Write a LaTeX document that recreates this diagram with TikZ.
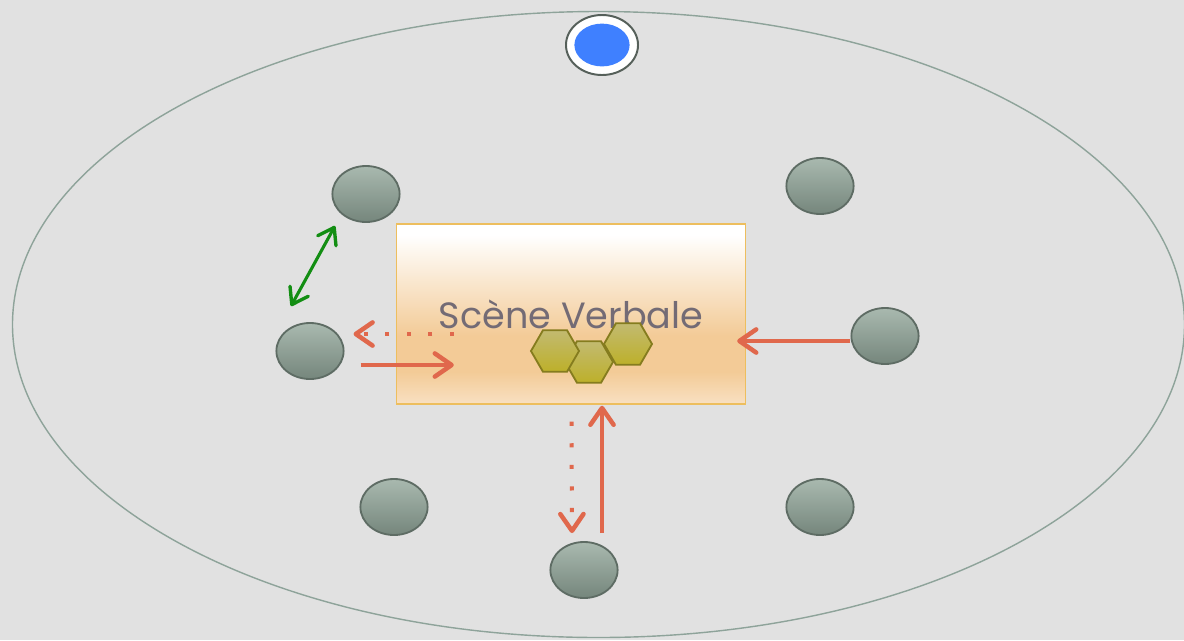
\documentclass[tikz,border=0pt]{standalone}
\usepackage{fontspec}
\setmainfont{Poppins}
\usepackage{tikz}
\usetikzlibrary{shapes,arrows.meta,positioning,calc}
\definecolor{bgGray}{HTML}{E1E1E1}
\definecolor{rimGray}{HTML}{8EA39A}
\definecolor{seatHi}{HTML}{A9B9AF}
\definecolor{seatLo}{HTML}{75867C}
\definecolor{seatEdge}{HTML}{5E6C64}
\definecolor{hostBlue}{HTML}{3F80FF}
\definecolor{hostEdge}{HTML}{56605A}
\definecolor{sceneEdge}{HTML}{EDBE5E}
\definecolor{sceneMid}{HTML}{F3CB97}
\definecolor{sceneLow}{HTML}{F8E0C2}
\definecolor{sceneText}{HTML}{736B75}
\definecolor{hexHi}{HTML}{C2BA70}
\definecolor{hexMid}{HTML}{A39C3E}
\definecolor{hexLo}{HTML}{BDB02A}
\definecolor{hexEdge}{HTML}{857C1E}
\definecolor{flowRed}{HTML}{E0684C}
\definecolor{linkGreen}{HTML}{138E13}
\pgfdeclareverticalshading{scenefill}{100bp}{color(0bp)=(sceneLow); color(25bp)=(sceneLow); color(34bp)=(sceneMid); color(44bp)=(sceneMid); color(72bp)=(white); color(100bp)=(white)}
\tikzset{
rim/.style = {draw=rimGray, line width=1pt},
member/.style = {draw=seatEdge, line width=1.3pt, ellipse, top color=seatHi, bottom color=seatLo, minimum width=1.68cm, minimum height=1.4cm},
host/.style = {draw=hostEdge, line width=1.4pt, ellipse, fill=white, minimum width=1.8cm, minimum height=1.5cm},
hostcore/.style = {ellipse, fill=hostBlue, minimum width=1.38cm, minimum height=1.07cm},
scene/.style = {draw=sceneEdge, line width=1pt, rectangle, shading=scenefill, minimum width=8.72cm, minimum height=4.5cm, text=sceneText, font=\fontsize{26}{30}\selectfont},
hexa/.style = {draw=hexEdge, line width=1.3pt, regular polygon, regular polygon sides=6, inner sep=0pt, minimum size=1.2cm, top color=hexHi, middle color=hexMid, bottom color=hexLo},
flow/.style = {draw=flowRed, line width=2.85pt},
dots/.style = {dash pattern=on 3pt off 12.3pt},
link/.style = {draw=linkGreen, line width=2.2pt}
}

\begin{document}
\begin{tikzpicture}[x=0.025cm, y=-0.025cm, >={Straight Barb[length=4.2mm,width=5.8mm,line width=3.2pt,round]}]
    \fill[bgGray] (0,0) rectangle (1184,640);
    \useasboundingbox (0,0) rectangle (1184,640);
    \draw[rim] (598.5,324.5) ellipse [x radius=586, y radius=313];

    \node [host] (host) at (602,45) {};
    \node [hostcore] (core) at (host) {};

    \node [member] (nw) at (366,194) {};
    \node [member] (ne) at (820,186) {};
    \node [member] (w) at (310,351) {};
    \node [member] (e) at (885,336) {};
    \node [member] (sw) at (394,507) {};
    \node [member] (se) at (820,507) {};
    \node [member] (s) at (584,570) {};

    \node [scene] (scene) at (571,314) {Scène Verbale};
    \node [hexa] (h2) at (589,362) {};
    \node [hexa] (h1) at (555,351) {};
    \node [hexa] (h3) at (628,344) {};

    \draw [flow,dots,->] ($(scene.west)+(58,20)$) -- ($(w.east)+(9,-17)$);
    \draw [flow,->] ($(w.east)+(16,14)$) -- ($(scene.west)+(58,51)$);
    \draw [flow,->] ($(e.west)+(0,5)$) -- ($(scene.east)+(-9,27)$);
    \draw [flow,->] ($(s.north)+(18,-8)$) -- ($(scene.south)+(31,1)$);
    \draw [flow,dots,->] ($(scene.south)+(0.5,17)$) -- ($(s.north)+(-12,-8)$);
    \draw [link,<->,>={Straight Barb[length=3.8mm,width=5.2mm,line width=2.4pt,round]}] ($(w.north)+(-19,-16)$) -- ($(nw.south)+(-31,3)$);
\end{tikzpicture}
\end{document}
